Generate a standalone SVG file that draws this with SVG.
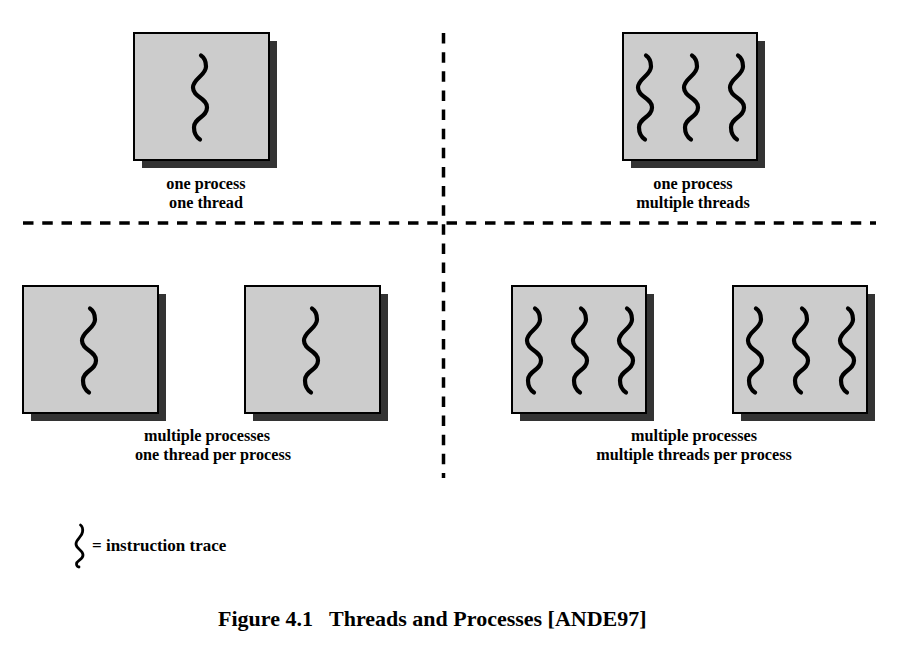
<svg xmlns="http://www.w3.org/2000/svg" xmlns:xlink="http://www.w3.org/1999/xlink" width="902" height="649" viewBox="0 0 902 649">
<style>
.box{fill:#cccccc;stroke:#000;stroke-width:2}
.shadow{fill:#333333}
.wave{fill:none;stroke:#000;stroke-width:4.2;stroke-linecap:round}
.lbl{font-family:"Liberation Serif","Times New Roman",serif;font-weight:bold;font-size:16.2px;fill:#000;text-anchor:middle}
.div{stroke:#000;stroke-width:3.5;fill:none}
</style>
<defs>
<path id="w" class="wave" d="M1,-42 C4,-40 6,-36 6,-31 C6,-22 -7,-19 -7,-10 C-7,0 7,0 7,10 C7,20 -6,20 -6,30 C-6,36 -3,40 0,42"/>
</defs>
<rect width="902" height="649" fill="#fff"/>
<g id="dividers">
<line class="div" x1="23" y1="223" x2="876" y2="223" stroke-dasharray="10.5 8.75"/>
<line class="div" x1="443.5" y1="33" x2="443.5" y2="478" stroke-dasharray="10.5 8.63"/>
</g>
<g id="p1">
<rect class="shadow" x="142" y="41" width="135" height="127"/>
<rect class="box" x="134" y="33" width="135" height="127"/>
<use xlink:href="#w" x="200" y="97.5"/>
<text class="lbl" x="206" y="189">one process</text>
<text class="lbl" x="206" y="208">one thread</text>
</g>
<g id="p2">
<rect class="shadow" x="631" y="41" width="134" height="127"/>
<rect class="box" x="623" y="33" width="134" height="127"/>
<use xlink:href="#w" x="645" y="97.5"/>
<use xlink:href="#w" x="691" y="97.5"/>
<use xlink:href="#w" x="737" y="97.5"/>
<text class="lbl" x="693" y="189">one process</text>
<text class="lbl" x="693" y="208">multiple threads</text>
</g>
<g id="p3">
<rect class="shadow" x="31" y="294" width="135" height="127"/>
<rect class="box" x="23" y="286" width="135" height="127"/>
<use xlink:href="#w" x="89" y="350.5"/>
<rect class="shadow" x="253" y="294" width="135" height="127"/>
<rect class="box" x="245" y="286" width="135" height="127"/>
<use xlink:href="#w" x="311" y="350.5"/>
<text class="lbl" x="207" y="441">multiple processes</text>
<text class="lbl" x="213" y="460">one thread per process</text>
</g>
<g id="p4">
<rect class="shadow" x="520" y="294" width="134" height="127"/>
<rect class="box" x="512" y="286" width="134" height="127"/>
<use xlink:href="#w" x="534" y="350.5"/>
<use xlink:href="#w" x="580" y="350.5"/>
<use xlink:href="#w" x="626" y="350.5"/>
<rect class="shadow" x="741" y="294" width="134" height="127"/>
<rect class="box" x="733" y="286" width="134" height="127"/>
<use xlink:href="#w" x="755" y="350.5"/>
<use xlink:href="#w" x="801" y="350.5"/>
<use xlink:href="#w" x="847" y="350.5"/>
<text class="lbl" x="694" y="441">multiple processes</text>
<text class="lbl" x="694" y="460">multiple threads per process</text>
</g>
<g id="legend">
<path class="wave" style="stroke-width:2.8" d="M80.5,525 C82.5,526.5 83,529 82.5,532 C82,537 76,539 76,544 C76,549 83,550 83,555 C83,560 76.5,560 76.5,564 C76.5,566 78,567 79,567"/>
<text x="92" y="551" style="font-family:'Liberation Serif','Times New Roman',serif;font-weight:bold;font-size:17px">= instruction trace</text>
</g>
<g id="caption">
<text x="218" y="626" xml:space="preserve" style="font-family:'Liberation Serif','Times New Roman',serif;font-weight:bold;font-size:22px">Figure 4.1   Threads and Processes [ANDE97]</text>
</g>
</svg>
